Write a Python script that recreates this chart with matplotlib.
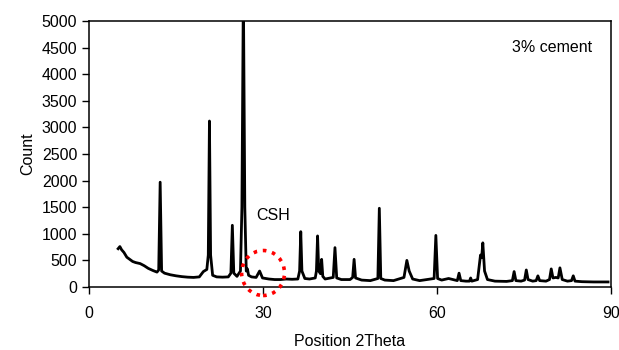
import matplotlib
matplotlib.use("Agg")
from matplotlib import pyplot as plt
from matplotlib.patches import Ellipse

plt.rcParams['font.family'] = ['Liberation Sans', 'DejaVu Sans']

# XRD pattern: 2theta positions and counts
two_theta = [5.0, 5.3, 5.6, 6.0, 6.5, 7.0, 7.5, 8.0, 8.8, 9.5, 10.2, 11.0, 11.7,
             12.0, 12.25, 12.5, 13.0, 14.0, 15.0, 16.0, 17.0, 18.0, 19.0, 19.7,
             20.3, 20.55, 20.75, 20.95, 21.3, 22.0, 23.0, 24.0, 24.45, 24.7, 24.95,
             25.5, 26.1, 26.35, 26.6, 26.85, 27.1, 27.3, 27.5, 28.0, 28.8, 29.4,
             29.9, 31.0, 32.0, 33.0, 34.0, 35.0, 36.0, 36.3, 36.5, 36.7, 37.2,
             38.0, 39.0, 39.2, 39.4, 39.6, 39.9, 40.1, 40.3, 40.7, 42.1, 42.4,
             42.7, 43.5, 45.0, 45.45, 45.7, 45.95, 47.0, 48.5, 49.8, 50.05, 50.3,
             51.0, 52.5, 54.3, 54.8, 55.2, 55.8, 57.0, 59.5, 59.8, 60.1, 60.8,
             62.0, 63.5, 63.8, 64.1, 65.0, 65.6, 65.8, 66.0, 67.0, 67.5, 67.7,
             67.9, 68.2, 68.7, 70.0, 72.0, 73.0, 73.3, 73.6, 74.5, 75.1, 75.4,
             75.7, 76.5, 77.1, 77.4, 77.7, 78.8, 79.4, 79.7, 80.0, 80.5, 80.9,
             81.2, 81.6, 82.5, 83.2, 83.5, 83.8, 85.0, 87.0, 89.5]
counts = [720, 760, 700, 650, 560, 520, 480, 460, 440, 400, 350, 310, 280,
          320, 1970, 300, 260, 230, 210, 195, 185, 180, 190, 290,
          330, 600, 3120, 600, 220, 190, 185, 190, 260, 1160, 260,
          200, 300, 1500, 5600, 1500, 300, 340, 220, 190, 180, 300,
          170, 150, 140, 140, 150, 145, 150, 300, 1040, 300, 160,
          150, 170, 300, 960, 300, 250, 520, 200, 150, 180, 740,
          170, 140, 140, 180, 520, 170, 130, 120, 160, 1480, 160,
          130, 120, 180, 500, 300, 150, 120, 160, 970, 160, 130,
          160, 120, 260, 120, 110, 110, 170, 110, 140, 600, 550,
          830, 300, 140, 110, 105, 120, 290, 120, 110, 130, 320,
          140, 110, 120, 210, 120, 110, 140, 340, 170, 180, 170,
          360, 140, 110, 120, 210, 110, 100, 95, 95]

fig = plt.figure(figsize=(6.19, 3.5), dpi=100)
ax = fig.add_axes([0.144, 0.18, 0.843, 0.76])

ax.plot(two_theta, counts, color='black', linewidth=2.0)

ax.set_xlim(0, 90)
ax.set_ylim(0, 5000)
ax.set_xticks([0, 30, 60, 90])
ax.set_yticks(range(0, 5001, 500))
ax.tick_params(direction='out', length=5, labelsize=11.5, width=1)
ax.tick_params(axis='x', pad=9)
for s in ax.spines.values():
    s.set_linewidth(1.1)

ax.set_xlabel("Position 2Theta", fontsize=11.5, labelpad=9)
ax.set_ylabel("Count", fontsize=11.5, labelpad=5)

ax.text(79.8, 4510, "3% cement", fontsize=11.5, ha='center', va='center')
ax.text(31.7, 1350, "CSH", fontsize=11.5, ha='center', va='center')

# dotted red circle marking the CSH hump
circ = Ellipse((30.0, 263), 7.4, 846, fill=False, edgecolor='red',
               linestyle=(0, (1, 1.6)), linewidth=2.6, clip_on=False, zorder=5)
ax.add_patch(circ)

plt.savefig("out.png", dpi=100)
